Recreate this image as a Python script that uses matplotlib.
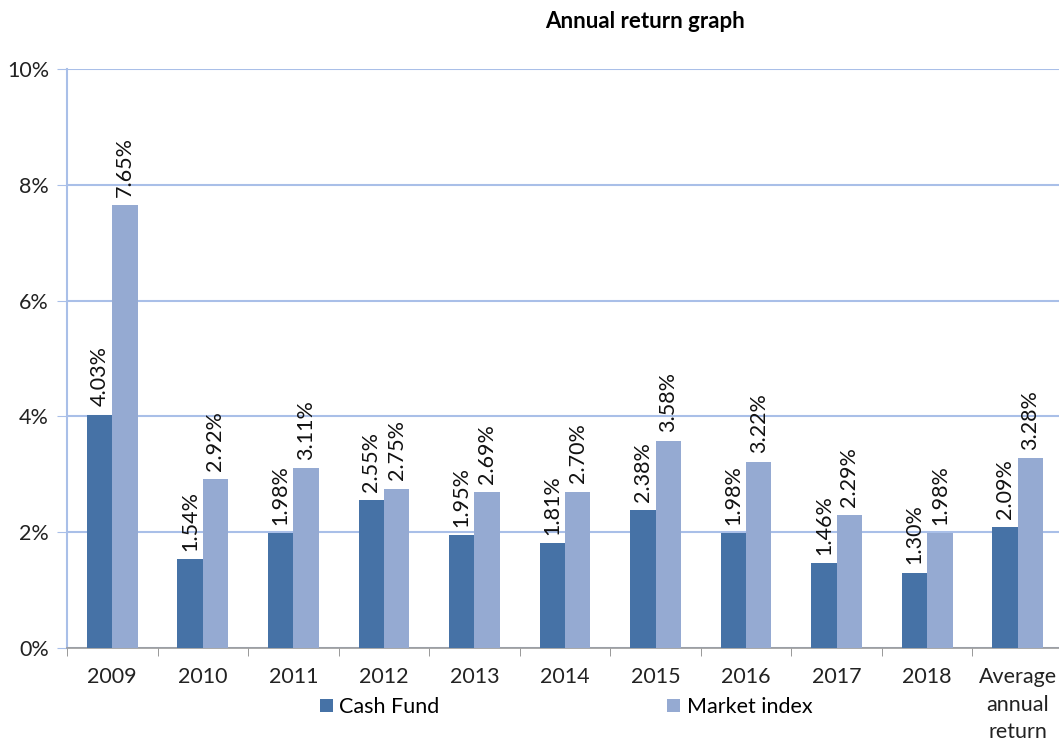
import numpy as np
import matplotlib.pyplot as plt
from matplotlib.ticker import PercentFormatter

plt.rcParams['font.family'] = ['Lato', 'DejaVu Sans']

categories = ['2009', '2010', '2011', '2012', '2013', '2014', '2015', '2016',
              '2017', '2018', 'Average\nannual\nreturn']
cash_fund = [4.03, 1.54, 1.98, 2.55, 1.95, 1.81, 2.38, 1.98, 1.46, 1.30, 2.09]
market_index = [7.65, 2.92, 3.11, 2.75, 2.69, 2.70, 3.58, 3.22, 2.29, 1.98, 3.28]

dark = '#4672A6'
light = '#95AAD2'
grid_col = '#A9BFE8'

fig = plt.figure(figsize=(10.59, 7.43), dpi=100)
ax = fig.add_axes([67 / 1059, 95 / 743, 996 / 1059, 579 / 743])

x = np.arange(len(categories))
w = 0.28
b1 = ax.bar(x - w / 2, cash_fund, w, color=dark, label='Cash Fund', zorder=3)
b2 = ax.bar(x + w / 2, market_index, w, color=light, label='Market index', zorder=3)

for bars, vals in ((b1, cash_fund), (b2, market_index)):
    for r, v in zip(bars, vals):
        ax.annotate(f'{v:.2f}%', (r.get_x() + r.get_width() / 2, v),
                    xytext=(0, 6), textcoords='offset points',
                    rotation=90, ha='center', va='bottom', fontsize=15.5, color='#111111')

ax.set_xlim(-0.5, len(categories) - 0.5)
ax.set_ylim(0, 10)
ax.set_yticks(np.arange(0, 11, 2))
ax.yaxis.set_major_formatter(PercentFormatter(decimals=0))
ax.set_xticks(x)
ax.set_xticklabels(categories, fontsize=15.5, color='#222222', linespacing=1.45)
ax.set_xticks(np.arange(-0.5, len(categories), 1), minor=True)
ax.tick_params(axis='x', which='major', length=0, pad=14)
ax.tick_params(axis='x', which='minor', length=6, color='#888888', direction='out')
ax.tick_params(axis='y', length=7, color=grid_col, labelsize=15.5, labelcolor='#222222', pad=6)

ax.grid(axis='y', color=grid_col, linewidth=1.5, zorder=0)
for s in ('top', 'right'):
    ax.spines[s].set_visible(False)
ax.spines['left'].set_color(grid_col)
ax.spines['left'].set_linewidth(1.5)
ax.spines['bottom'].set_color('#999999')
ax.spines['bottom'].set_linewidth(1.2)

fig.text(645 / 1059, 1 - 22 / 743, 'Annual return graph', ha='center', va='center',
         fontsize=16, fontweight='bold')

fig.legend(handles=[b1, b2], loc='center', bbox_to_anchor=(566 / 1059, 1 - 707 / 743),
           ncol=2, frameon=False, fontsize=15.5, handlelength=0.6, handleheight=0.6,
           handletextpad=0.3, columnspacing=10.6)

fig.savefig('out.png', dpi=100)
